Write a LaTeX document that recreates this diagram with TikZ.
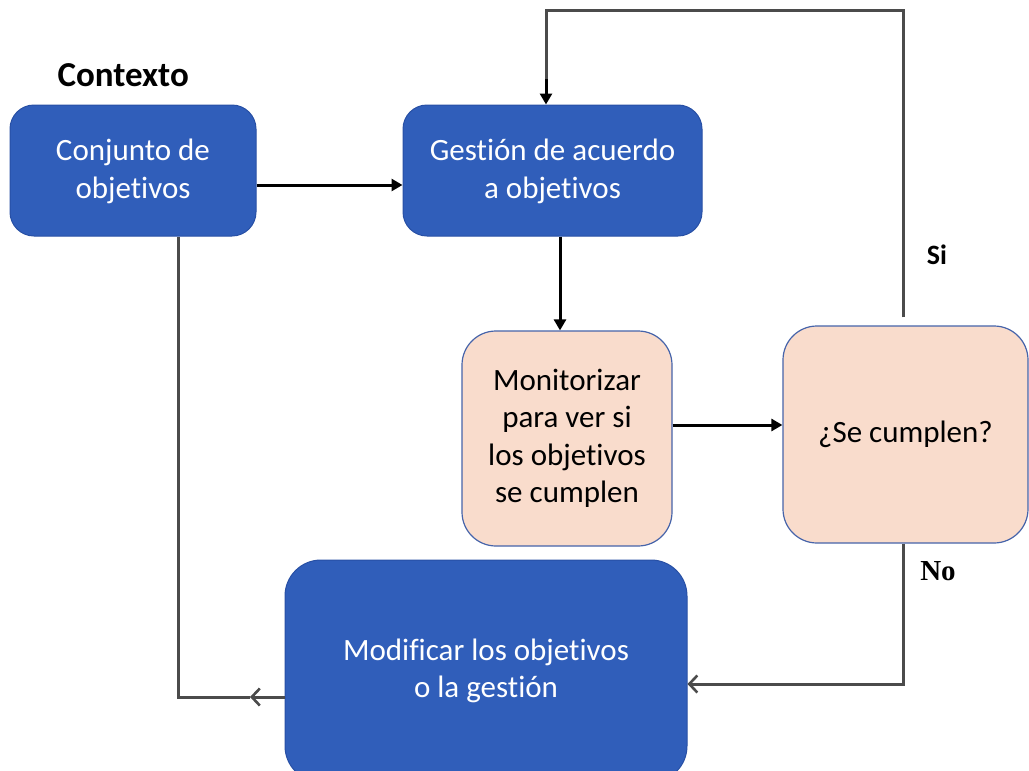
\documentclass[tikz,border=0pt]{standalone}
\usepackage{fontspec}
\setmainfont{Carlito}[Ligatures=NoCommon]
\newfontfamily\timesfont{Liberation Serif}
\usetikzlibrary{arrows.meta}
\definecolor{boxblue}{RGB}{48,94,186}
\definecolor{boxblueedge}{RGB}{40,80,165}
\definecolor{peach}{RGB}{249,220,204}
\definecolor{peachedge}{RGB}{70,100,170}
\definecolor{linegray}{RGB}{75,75,75}
\tikzset{
  bluebox/.style={draw=boxblueedge, line width=1pt, fill=boxblue, text=white, rounded corners=24pt, align=center, inner sep=0pt, font=\fontsize{31}{37.5}\selectfont},
  peachbox/.style={draw=peachedge, line width=1.2pt, fill=peach, text=black, rounded corners=34pt, align=center, inner sep=0pt, font=\fontsize{31}{37.5}\selectfont},
  solidarrow/.style={draw=black, line width=3pt, -{Triangle[length=11pt,width=12pt]}},
  grayline/.style={draw=linegray, line width=3pt},
  barbarrow/.style={draw=linegray, line width=3pt, -{Straight Barb[length=8pt,width=17pt,line width=2.6pt]}}
}
\begin{document}
\begin{tikzpicture}[x=1pt,y=-1pt]
\useasboundingbox (0,0) rectangle (1029,771);
\clip (0,0) rectangle (1029,771);
\fill[white] (0,0) rectangle (1029,771);

\node[font=\bfseries\fontsize{35}{40}\selectfont, anchor=west] (ctx) at (54,75) {Contexto};

\node[bluebox, minimum width=246pt, minimum height=131pt, text depth=4pt] (c1) at (133,170.5) {Conjunto de\\objetivos};
\node[bluebox, minimum width=299pt, minimum height=131pt, text depth=4pt] (g) at (552.5,170.5) {Gestión de acuerdo\\a objetivos};
\node[peachbox, minimum width=210pt, minimum height=215pt] (mon) at (567,438.5) {Monitorizar\\para ver si\\los objetivos\\se cumplen};
\node[peachbox, minimum width=245pt, minimum height=217pt] (q) at (905.5,434.5) {¿Se cumplen?};
\node[bluebox, rounded corners=36pt, minimum width=402pt, minimum height=222pt] (mod) at (486,671) {Modificar los objetivos\\o la gestión};

\node[font=\bfseries\fontsize{28}{34}\selectfont] (si) at (937,255) {Si};
\node[font=\timesfont\bfseries\fontsize{29}{34}\selectfont] (no) at (938,571) {No};

% straight arrows
\draw[solidarrow] (c1.east |- 0,185) -- (g.west |- 0,185);
\draw[solidarrow] (g.south -| 560,0) -- (mon.north -| 560,0);
\draw[solidarrow] (mon.east |- 0,425) -- (q.west |- 0,425);

% loop back (Si)
\coordinate (siTop) at (903,10);
\draw[grayline] ([yshift=8pt]q.north -| 903,0) -- (siTop) -| (546,80);
\draw[solidarrow] (546,79) -- (g.north -| 546,0);

% No path
\coordinate (noCorner) at (903,684);
\draw[barbarrow] (q.south -| 903,0) -- (noCorner) -- (mod.east |- 0,684);

% left path
\coordinate (midArrow) at (250,697);
\coordinate (leftCorner) at (178,697);
\draw[barbarrow] (mod.west |- 0,697) -- (midArrow);
\draw[grayline] (midArrow) -- (leftCorner) -- (c1.south -| 178,0);
\end{tikzpicture}
\end{document}
